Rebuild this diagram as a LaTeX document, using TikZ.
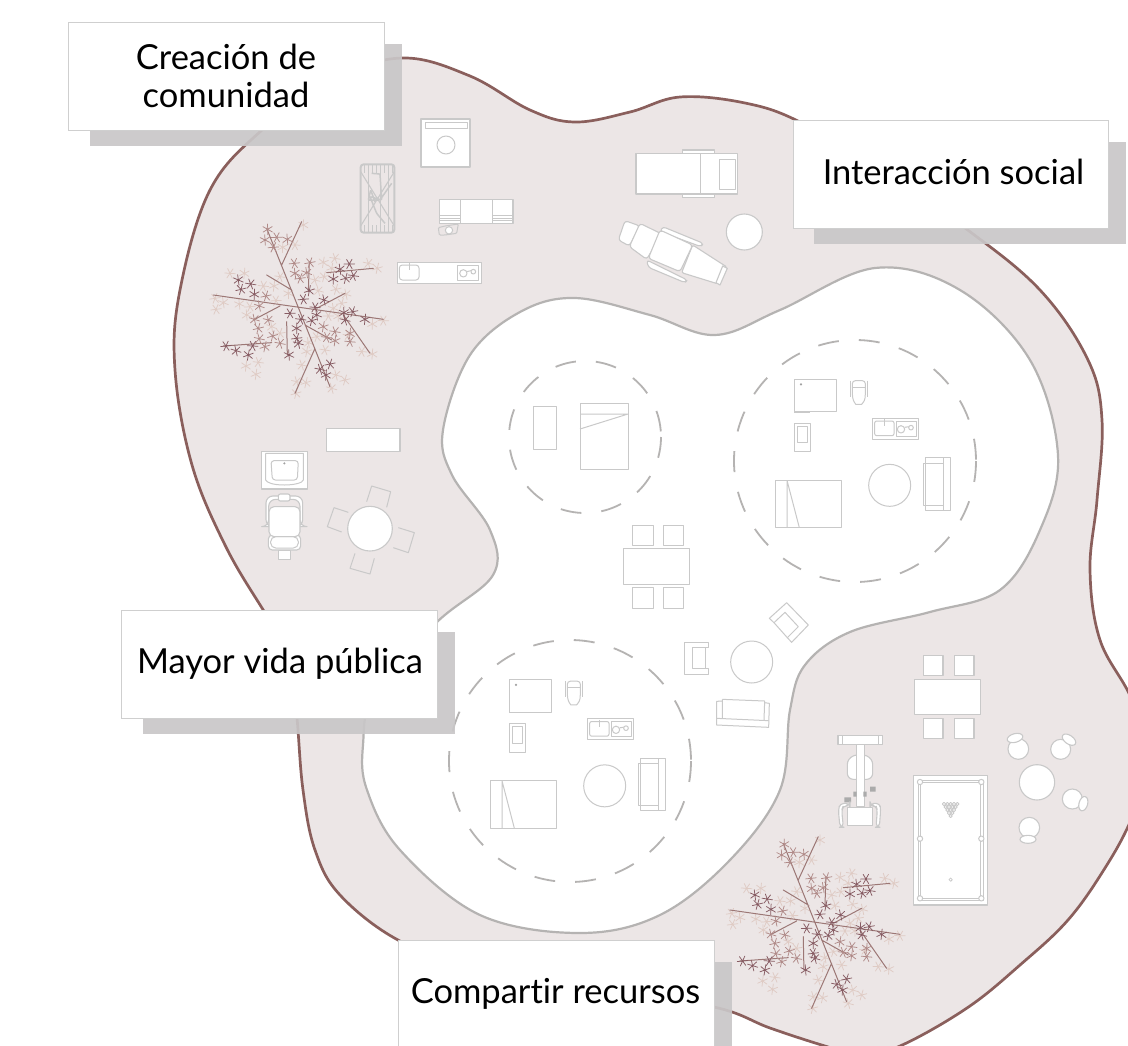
\documentclass[tikz,border=0pt]{standalone}
\usepackage{fontspec}
\setmainfont[Ligatures=NoCommon]{Lato}
\definecolor{blobfill}{HTML}{ECE6E6}
\definecolor{blobline}{HTML}{8A5F5C}
\definecolor{innerline}{HTML}{B5B3B2}
\definecolor{furn}{HTML}{C9C9C9}
\definecolor{shadowc}{HTML}{C9C7C8}
\definecolor{boxline}{HTML}{CFCFCF}
\definecolor{starL}{HTML}{DFCBC4}
\definecolor{starM}{HTML}{B08A88}
\definecolor{starD}{HTML}{875C63}
\tikzset{
  fw/.style={draw=furn,line width=1.1pt,fill=white,line join=round},
  fl/.style={draw=furn,line width=1pt,line join=round},
  shadowbox/.style={fill=shadowc,opacity=.92},
  labeltext/.style={font=\fontsize{34.5}{38}\selectfont,text=black},
  dashring/.style={draw=innerline,line width=1.8pt,dash pattern=on 21pt off 20pt},
  starline/.style={line width=.75pt,line cap=round},
  zoomed/.style={x=.33333pt,y=-.33333pt}
}
\newcommand{\treeat}[2]{%
\begin{scope}[shift={(#1,#2)},zoomed]
\foreach \x/\y [count=\i] in {310/375,285/435,248/442,90/520,133/520,190/558,222/558,240/530,370/487,405/475,395/505,505/490,532/505,345/540,372/530,355/572,408/568,438/583,425/610,400/625,45/595,70/608,48/628,118/612,150/620,140/645,228/602,265/580,385/648,415/648,550/662,517/672,485/755,517/762,445/705,138/798,175/787,168/823,375/750,320/755,305/795,318/848,290/845,288/880,395/865,435/840,408/825,350/710,325/728,240/700,215/680}
  \draw[starL,starline,shift={(\x,\y)},rotate=\i*29] (-16,0)--(16,0) (-8,-14)--(8,14) (-8,14)--(8,-14);
\draw[blobline!85!white,line width=1pt,line cap=round]
  (200,385)--(390,860) (40,585)--(550,658) (305,365)--(245,495) (200,525)--(275,570)
  (328,485)--(325,575) (380,518)--(520,505) (435,580)--(350,625) (240,618)--(160,660)
  (260,665)--(262,765) (315,675)--(395,720) (430,645)--(510,760) (70,738)--(215,728)
  (345,745)--(285,880);
\foreach \x/\y [count=\i] in {203/388,230/412,195/420,220/442,262/418,283/490,285/520,300/535,320/518,330/488,178/618,198/588,163/658,175/685,205/660,218/708,178/716,195/740,240/730,370/680,405/695,405/722,380/712,450/700,450/725}
  \draw[starM,starline,shift={(\x,\y)},rotate=\i*31] (-16,0)--(16,0) (-8,-14)--(8,14) (-8,14)--(8,-14);
\foreach \x/\y [count=\i] in {115/540,123/568,152/552,163/583,310/598,372/600,328/572,345/622,432/638,458/635,435/660,495/658,448/492,420/508,437/535,460/527,400/537,78/738,108/752,145/765,158/738,267/765,390/792,360/808,378/825,270/640,350/645,335/662,302/658,290/685,290/715,295/730}
  \draw[starD,starline,shift={(\x,\y)},rotate=\i*37] (-16,0)--(16,0) (-8,-14)--(8,14) (-8,14)--(8,-14);
\end{scope}}
\newcommand{\unitat}[2]{%
\begin{scope}[shift={(#1,#2)},zoomed]
\draw[fl] (72,28) rectangle (198,125);
\fill[furn!80!black] (93,43) circle[radius=3.5];
\draw[draw=furn,line width=1.8pt] (72,126)--(120,126);
\draw[fl] (240,32)--(240,80) (292,32)--(292,80);
\draw[fl,rounded corners=3pt] (247,32)--(247,75) .. controls (250,95) and (258,103) .. (266,103) .. controls (274,103) and (284,95) .. (286,75)--(286,32)--cycle;
\draw[fl] (247,52)--(286,52);
\draw[fl] (72,160) rectangle (120,245);
\draw[fl] (83,168) rectangle (112,218);
\draw[fl] (308,145) rectangle (445,208);
\draw[fl,rounded corners=2pt] (314,153) rectangle (372,197);
\draw[fl] (342,148)--(342,168);
\draw[fl] (378,153) rectangle (438,198);
\draw[fl] (393,178) circle[radius=11];
\draw[fl] (423,173) circle[radius=7];
\draw[fl] (404,172)--(416,170);
\draw[fl] (359,346) circle[radius=63];
\draw[fl] (465,263) rectangle (540,420);
\draw[fl] (520,263)--(520,420);
\draw[fl] (520,280)--(460,280)--(460,405)--(520,405);
\draw[fl] (15,331) rectangle (214,473);
\draw[fl] (51,331)--(51,473) (51,331)--(88,473);
\end{scope}}
\begin{document}
\begin{tikzpicture}[x=1pt,y=-1pt]
\useasboundingbox (0,0) rectangle (1128,1045);
\clip (0,0) rectangle (1128,1045);
% outer area
\path[fill=blobfill,draw=blobline,line width=2.7pt]
 plot[smooth cycle,tension=.62] coordinates {(402,58) (470,76) (530,110) (575,122) (630,112) (680,97) (745,103) (800,122) (880,170) (965,228) (1040,290) (1088,360) (1102,420) (1097,500) (1090,570) (1100,640) (1132,700) (1150,765) (1131,820) (1105,868) (1068,920) (1020,965) (967,1008) (900,1046) (860,1055) (825,1046) (770,1028) (714,1007) (600,990) (470,965) (398,940) (340,895) (315,850) (303,790) (297,718) (290,650) (262,608) (225,545) (192,465) (175,370) (180,290) (210,190) (262,130) (330,80)};
% inner white area
\path[fill=white,draw=innerline,line width=2.2pt]
 plot[smooth cycle,tension=.6] coordinates {(443,430) (470,355) (520,312) (575,298) (650,315) (715,335) (780,310) (875,268) (960,290) (1030,360) (1058,455) (1040,530) (1000,590) (930,612) (850,632) (805,665) (790,710) (780,790) (730,860) (660,915) (580,933) (480,915) (400,850) (367,790) (363,745) (375,690) (437,622) (493,575) (490,530) (452,475)};
% dashed rings
\draw[dashring] (585,437) circle[radius=76];
\draw[dashring] (855,461) circle[radius=121];
\draw[dashring] (570,761) circle[radius=121];
% trees
\treeat{200}{100}
\treeat{716.6}{715}
% upper left group
\draw[fw] (421,119) rectangle (470,167);
\draw[fl] (425,122) rectangle (467,128);
\draw[fl] (446,145) circle[radius=9];
\begin{scope}[shift={(200,100)},zoomed]
% grill
\foreach \k in {492,504,516,528,540,552,564,576}
  \draw[draw=furn,line width=1pt] (\k,193)--(\k,220) (\k,375)--(\k,398);
\foreach \k in {504,540,564}
  \draw[draw=furn,line width=1pt] (\k,220)--(\k,375);
\draw[draw=furn,line width=2pt,rounded corners=3pt] (482,193) rectangle (583,398);
\draw[draw=furn,line width=1.1pt] (482,215)--(583,378) (583,215)--(482,378);
\draw[draw=furn,line width=1.5pt,rounded corners=1pt] (515,220)--(540,222)--(545,300)--(510,290)--(530,340)--(555,370) (575,250)--(540,300)--(505,300)--(512,270)--(525,305);
% counter
\draw[fw] (718,298) rectangle (939,370);
\draw[fl] (780,298)--(780,370) (877,298)--(877,370);
\foreach \k in {347,354,361} \draw[draw=furn,line width=.9pt] (718,\k)--(780,\k) (877,\k)--(939,\k);
\draw[draw=furn,line width=1pt,rounded corners=1pt] (715,383)--(735,378)--(775,372)--(770,400)--(735,405)--(718,405)--cycle;
\draw[draw=furn,fill=white,line width=1pt] (747,391) circle[radius=11];
% kitchenette
\draw[fw] (592,488) rectangle (845,550);
\draw[fl,rounded corners=3pt] (598,495) rectangle (657,540);
\draw[fl] (627,490)--(627,510);
\draw[fl] (772,496) rectangle (835,540);
\draw[fl] (790,520) circle[radius=11];
\draw[fl] (820,515) circle[radius=7];
\draw[fl] (800,515)--(813,512);
\end{scope}
% reclining table and chair
\begin{scope}[shift={(600,130)},zoomed]
\draw[fw] (248,60) rectangle (343,203);
\draw[fw] (108,70) rectangle (413,192);
\draw[fl] (302,70)--(302,192);
\draw[fl] (358,88) rectangle (406,178);
\draw[fw,rounded corners=2pt] (278,345)--(382,412)--(355,462)--(245,428)--cycle;
\draw[fw] (368,408)--(382,415)--(360,465)--(348,458)--cycle;
\draw[fw,rounded corners=3pt] (75,272)--(120,288)--(88,348)--(55,330)--cycle;
\draw[fw,rounded corners=3pt] (120,280)--(185,312)--(140,388)--(88,350)--cycle;
\draw[fw,rounded corners=3pt] (188,290)--(310,340)--(303,350)--(180,305)--cycle;
\draw[fw,rounded corners=3pt] (140,390)--(262,450)--(255,458)--(145,412)--cycle;
\draw[fw,rounded corners=3pt] (180,300)--(278,345)--(240,425)--(145,385)--cycle;
\draw[fw] (433,306) circle[radius=54];
\end{scope}
% left group
\begin{scope}[shift={(240,420)},zoomed]
\draw[fw] (260,25) rectangle (480,95);
\draw[fl] (380,245)--(395,198)--(452,215)--(440,262);
\draw[fl] (475,323)--(523,338)--(505,398)--(460,383);
\draw[fl] (345,400)--(330,445)--(390,462)--(403,415);
\draw[fl] (325,277)--(282,263)--(262,320)--(305,336);
\draw[fw] (390,326) circle[radius=67];
\draw[fw] (65,95) rectangle (203,207);
\draw[fl] (77,100)--(190,100)--(190,180) (77,100)--(77,180) .. controls (80,188) and (100,195) .. (133,195) .. controls (165,195) and (188,188) .. (190,180);
\draw[fl,rounded corners=3pt] (93,122)--(175,122)--(172,180)--(97,180)--cycle;
\fill[furn!80!black] (133,130) circle[radius=3.5];
\draw[fw] (115,390) rectangle (152,418);
\draw[fw,rounded corners=4pt] (85,345) rectangle (182,390);
\draw[fl,rounded corners=5pt] (92,350) rectangle (175,384);
\draw[fw,rounded corners=7pt] (78,320)--(78,228)--(188,228)--(188,320)--(180,320)--(180,238)--(86,238)--(86,320)--cycle;
\draw[fw,rounded corners=5pt] (87,260) rectangle (180,350);
\draw[fw,rounded corners=2pt] (115,222) rectangle (150,243);
\end{scope}
% bedroom one
\draw[fl] (533,406) rectangle (556,449);
\draw[fl] (580,403) rectangle (628,469);
\draw[fl] (580,414)--(628,414) (580,429)--(628,414);
% units
\unitat{770}{370}
\unitat{485}{670.5}
% central table
\begin{scope}[shift={(623,548)}]
\draw[fl] (0,0) rectangle (66,36);
\draw[fl] (9,-23) rectangle (30,-3) (40,-23) rectangle (60,-3) (9,39) rectangle (30,60) (40,39) rectangle (60,60);
\end{scope}
% living
\begin{scope}[shift={(670,590)},zoomed]
\draw[fl] (245,216) circle[radius=63];
\draw[fl] (116,157)--(44,157)--(44,253)--(116,253)--(116,235)--(68,235)--(68,172)--(116,172)--cycle;
\draw[fl] (105,172)--(105,235);
\draw[fl] (350,38)--(415,105)--(365,157)--(352,143)--(385,110)--(345,67)--(312,98)--(298,85)--cycle;
\draw[fl] (312,98)--(352,143);
\draw[fl] (157,333)--(140,334)--(140,405)--(296,412)--(298,340)--(284,338);
\draw[fl] (140,385)--(296,392);
\draw[fl] (157,328)--(284,333)--(282,390) (157,328)--(157,385);
\end{scope}
% lower right group
\begin{scope}[shift={(820,640)},zoomed]
\draw[fw] (283,118) rectangle (481,224);
\draw[fw] (310,46) rectangle (369,106);
\draw[fw] (403,46) rectangle (462,106);
\draw[fw] (310,235) rectangle (369,296);
\draw[fw] (403,235) rectangle (462,296);
% billiard
\draw[fw] (281,407) rectangle (503,795);
\draw[fl] (295,421) rectangle (489,781);
\draw[fl] (302,428) rectangle (482,774);
\foreach \px/\py in {300/426,484/426,300/596,484/596,300/775,484/775}
  \draw[fw,line width=1pt] (\px,\py) circle[radius=8];
\draw[fw,line width=.8pt] (392,719) circle[radius=5];
\foreach \bx/\by in {372/492,382/492,392/492,402/492,412/492,377/501,387/501,397/501,407/501,382/510,392/510,402/510,387/519,397/519,392/528}
  \draw[fw,line width=.9pt] (\bx,\by) circle[radius=5];
% round table and stools
\draw[fw] (651,427) circle[radius=53];
\draw[fw] (595,327) circle[radius=31];
\draw[fw] (585,294) circle[x radius=24,y radius=13,rotate=15];
\draw[fw] (722,328) circle[radius=30];
\draw[fw] (747,299) circle[x radius=23,y radius=13,rotate=-35];
\draw[fw] (757,477) circle[radius=30];
\draw[fw] (790,491) circle[x radius=22,y radius=13,rotate=75];
\draw[fw] (628,563) circle[radius=31];
\draw[fw] (624,598) circle[x radius=24,y radius=12];
% machine
\draw[fw] (54,287) rectangle (187,314);
\draw[fl] (66,287)--(66,314) (176,287)--(176,314);
\draw[fw,rounded corners=6pt] (82,418)--(82,355)--(120,340)--(158,355)--(158,418)--cycle;
\draw[fw] (109,314) rectangle (133,500);
\fill[furn!85!black] (73,472) rectangle (93,487) (100,455) rectangle (110,470) (130,455) rectangle (140,470) (150,440) rectangle (167,455);
\draw[fw,rounded corners=4pt] (90,490)--(60,490)--(55,510)--(60,562)--(70,562)--(65,510)--(70,497)--(90,497)--cycle;
\draw[fw,rounded corners=4pt] (150,490)--(180,490)--(182,510)--(178,562)--(168,562)--(172,510)--(168,497)--(150,497)--cycle;
\draw[fw] (83,502) rectangle (158,556);
\end{scope}
% label boxes
\fill[shadowbox] (90,44) rectangle (402,146);
\fill[shadowbox] (814,142) rectangle (1126,244);
\fill[shadowbox] (143,632) rectangle (455,734);
\fill[shadowbox] (420,962) rectangle (732,1060);
\draw[draw=boxline,line width=1pt,fill=white] (68,22) rectangle (384,130);
\draw[draw=boxline,line width=1pt,fill=white] (793,120) rectangle (1108,228);
\draw[draw=boxline,line width=1pt,fill=white] (121,610) rectangle (437,718);
\draw[draw=boxline,line width=1pt,fill=white] (398,940) rectangle (714,1060);
\node[align=center,labeltext] (l1) at (226,76) {Creación de\\comunidad};
\node[labeltext] (l2) at (953.5,172) {Interacción social};
\node[labeltext] (l3) at (280,664) {Mayor vida pública};
\node[labeltext] (l4) at (555.5,994) {Compartir recursos};
\end{tikzpicture}
\end{document}
